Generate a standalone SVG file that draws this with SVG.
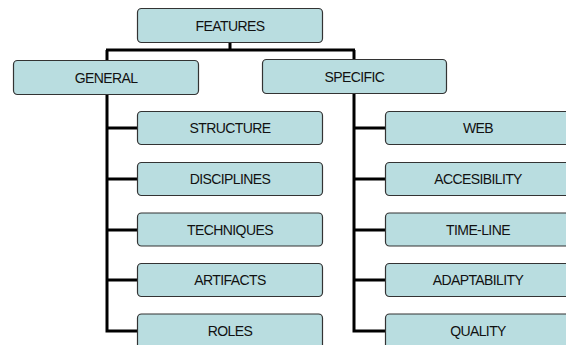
<svg xmlns="http://www.w3.org/2000/svg" width="566" height="345" viewBox="0 0 566 345">
<style>
.box{fill:#b9dde0;stroke:#333;stroke-width:1.2}
.lbl{font-family:"Liberation Sans",Arial,sans-serif;font-size:14px;letter-spacing:-0.6px;fill:#111;text-anchor:middle}
.con{fill:none;stroke:#000;stroke-width:3}
</style>
<rect width="566" height="345" fill="#fff"/>
<g id="connectors">
<path class="con" d="M230,43 V50 M106,50 H355 M107,50 V60 M354,50 V59"/>
<path class="con" d="M107,95 V332.5 M107,128 H137 M107,179 H137 M107,230 H137 M107,280 H137 M105.5,331 H137"/>
<path class="con" d="M354,94 V332.5 M354,128 H385 M354,179 H385 M354,230 H385 M354,280 H385 M352.5,331 H385"/>
</g>
<g id="features"><rect class="box" x="137.5" y="8.5" width="185" height="34" rx="4"/><text class="lbl" x="230" y="30.5">FEATURES</text></g>
<g id="general"><rect class="box" x="13.5" y="60.5" width="185" height="34" rx="4"/><text class="lbl" x="106" y="82.5">GENERAL</text></g>
<g id="specific"><rect class="box" x="262.5" y="59.5" width="184" height="34" rx="4"/><text class="lbl" x="354.5" y="81.5">SPECIFIC</text></g>
<g id="structure"><rect class="box" x="137.5" y="111.5" width="185" height="33" rx="4"/><text class="lbl" x="230" y="133">STRUCTURE</text></g>
<g id="disciplines"><rect class="box" x="137.5" y="162.5" width="185" height="33" rx="4"/><text class="lbl" x="230" y="184">DISCIPLINES</text></g>
<g id="techniques"><rect class="box" x="137.5" y="213" width="185" height="33" rx="4"/><text class="lbl" x="230" y="234.5">TECHNIQUES</text></g>
<g id="artifacts"><rect class="box" x="137.5" y="263.5" width="185" height="33" rx="4"/><text class="lbl" x="230" y="285">ARTIFACTS</text></g>
<g id="roles"><rect class="box" x="137.5" y="314" width="185" height="40" rx="4"/><text class="lbl" x="230" y="336">ROLES</text></g>
<g id="web"><rect class="box" x="385.5" y="111.5" width="186" height="33" rx="4"/><text class="lbl" x="478" y="133">WEB</text></g>
<g id="accesibility"><rect class="box" x="385.5" y="162.5" width="186" height="33" rx="4"/><text class="lbl" x="478" y="184">ACCESIBILITY</text></g>
<g id="timeline"><rect class="box" x="385.5" y="213" width="186" height="33" rx="4"/><text class="lbl" x="478" y="234.5">TIME-LINE</text></g>
<g id="adaptability"><rect class="box" x="385.5" y="263.5" width="186" height="33" rx="4"/><text class="lbl" x="478" y="285">ADAPTABILITY</text></g>
<g id="quality"><rect class="box" x="385.5" y="314" width="186" height="40" rx="4"/><text class="lbl" x="478" y="336">QUALITY</text></g>
</svg>
